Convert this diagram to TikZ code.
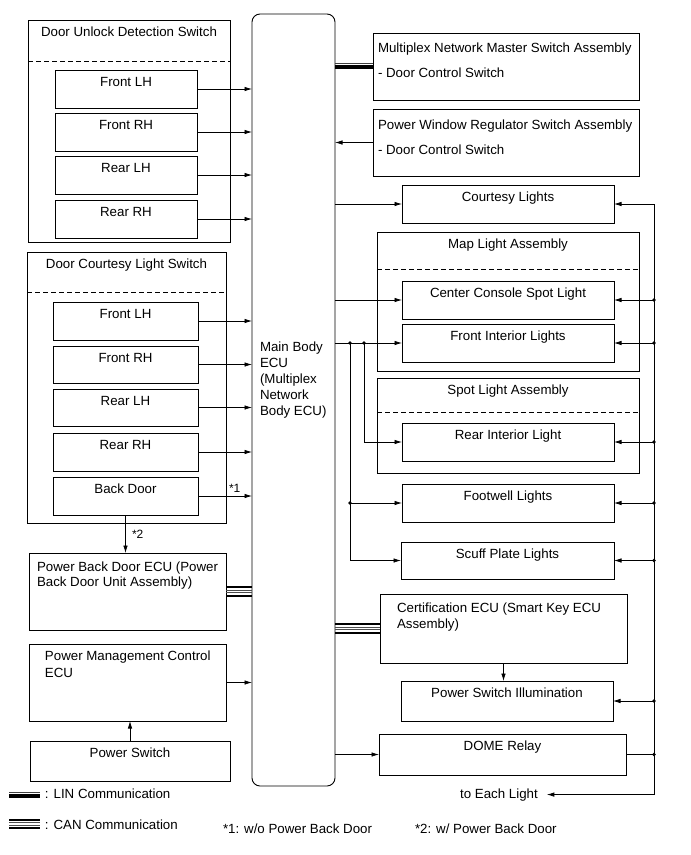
\documentclass[tikz,border=0pt]{standalone}
\usepackage{fontspec}
\setmainfont{Liberation Sans}
\usetikzlibrary{arrows.meta,calc}
\newcommand\mybx[5]{%
 \pgfmathsetmacro\bw{#4-#2}\pgfmathsetmacro\bh{#5-#3}%
 \node[box,anchor=north west,minimum width=\bw pt,minimum height=\bh pt] (#1) at (#2,#3) {};}
\newcommand\mybt[6]{%
 \mybx{#1}{#2}{#3}{#4}{#5}%
 \node[txt,anchor=base] (#1t) at ($(#1.north)+(0,16)$) {#6};}
\newcommand\linbus[2]{%
 \draw[line width=0.9pt,black!75] ([yshift=2.9pt]#1) -- ([yshift=2.9pt]#2);
 \draw[line width=4.2pt] ([yshift=-0.6pt]#1) -- ([yshift=-0.6pt]#2);}
\newcommand\canbus[2]{%
 \draw[line width=2pt] ([yshift=4.1pt]#1) -- ([yshift=4.1pt]#2);
 \draw[line width=0.7pt,black!70] ([yshift=1.2pt]#1) -- ([yshift=1.2pt]#2);
 \draw[line width=0.7pt,black!70] ([yshift=-1.2pt]#1) -- ([yshift=-1.2pt]#2);
 \draw[line width=2pt] ([yshift=-4.1pt]#1) -- ([yshift=-4.1pt]#2);}
\begin{document}
\begin{tikzpicture}[x=1pt,y=-1pt,
 box/.style={draw,line width=0.9pt,inner sep=0,outer sep=0},
 txt/.style={font=\fontsize{13.3}{16}\selectfont,inner sep=0,outer sep=0},
 arr/.style={line width=0.7pt,-{Latex[length=7.5pt,width=4.5pt]}},
 ln/.style={line width=0.7pt},
 dsh/.style={line width=0.8pt,dash pattern=on 5pt off 3pt}]
\useasboundingbox (0,0) rectangle (691,855);

% ---------- left column ----------
\mybt{dud}{28}{20}{230}{242}{Door Unlock Detection Switch}
\draw[dsh] ($(dud.north west)+(0,41)$) -- ($(dud.north east)+(0,41)$);
\mybt{u1}{55}{70}{197}{108}{Front LH}
\mybt{u2}{55}{113}{197}{151}{Front RH}
\mybt{u3}{55}{156}{197}{194}{Rear LH}
\mybt{u4}{55}{200}{197}{238}{Rear RH}

\mybt{dcl}{27}{252}{226}{523}{Door Courtesy Light Switch}
\draw[dsh] ($(dcl.north west)+(0,40)$) -- ($(dcl.north east)+(0,40)$);
\mybt{c1}{53}{302}{198}{340}{Front LH}
\mybt{c2}{53}{346}{198}{383}{Front RH}
\mybt{c3}{53}{389}{198}{426}{Rear LH}
\mybt{c4}{53}{433}{198}{471}{Rear RH}
\mybt{c5}{53}{477}{198}{515}{Back Door}

\mybx{pbd}{29}{553}{226}{630}
\node[txt,anchor=base west] (pbdt1) at (37,571) {Power Back Door ECU (Power};
\node[txt,anchor=base west] (pbdt2) at (37,586) {Back Door Unit Assembly)};

\mybx{pmc}{29}{644}{226}{721}
\node[txt,anchor=base west] (pmct1) at (45,660) {Power Management Control};
\node[txt,anchor=base west] (pmct2) at (45,677) {ECU};

\mybt{ps}{30}{741}{230}{781}{Power Switch}

% ---------- main ECU ----------
\node[box,rounded corners=8pt,anchor=north west,minimum width=83pt,minimum height=772pt] (ecu) at (252,14) {};
\node[txt,anchor=north west,align=left] (ecut) at (260,342) {Main Body\\ECU\\(Multiplex\\Network\\Body ECU)};

% ---------- right column ----------
\mybx{mnm}{373}{33}{639}{100}
\node[txt,anchor=base west] (mnmt1) at (378,52) {Multiplex Network Master Switch Assembly};
\node[txt,anchor=base west] (mnmt2) at (378,77) {- Door Control Switch};

\mybx{pwr}{373}{109}{639}{176}
\node[txt,anchor=base west] (pwrt1) at (378,129) {Power Window Regulator Switch Assembly};
\node[txt,anchor=base west] (pwrt2) at (378,154) {- Door Control Switch};

\mybt{cl}{402}{185}{614}{223}{Courtesy Lights}

\mybt{mla}{377}{232}{639}{371}{Map Light Assembly}
\draw[dsh] ($(mla.north west)+(0,37)$) -- ($(mla.north east)+(0,37)$);
\mybt{ccs}{402}{281}{614}{319}{Center Console Spot Light}
\mybt{fil}{402}{324}{614}{362}{Front Interior Lights}

\mybt{sla}{377}{378}{639}{473}{Spot Light Assembly}
\draw[dsh] ($(sla.north west)+(0,34)$) -- ($(sla.north east)+(0,34)$);
\mybt{ril}{402}{423}{614}{461}{Rear Interior Light}

\mybt{fwl}{402}{484}{614}{522}{Footwell Lights}
\mybt{spl}{401}{542}{614}{579}{Scuff Plate Lights}

\mybx{cert}{380}{594}{627}{663}
\node[txt,anchor=base west] (certt1) at (397,612) {Certification ECU (Smart Key ECU};
\node[txt,anchor=base west] (certt2) at (397,628) {Assembly)};

\mybt{psi}{401}{681}{613}{721}{Power Switch Illumination}
\mybt{dome}{379}{734}{626}{775}{DOME Relay}

\node[txt,anchor=base] (tel) at (499,798) {to Each Light};

% ---------- connectors: left side ----------
\foreach \n in {u1,u2,u3,u4,c1,c2,c3,c4,c5,pmc}
  \draw[arr] (\n.east) -- (\n.east -| ecu.west);
\node[txt,anchor=base west,font=\fontsize{12}{14}\selectfont] (s1) at (229,492) {*1};
\draw[arr] (c5.south) -- (c5.south |- pbd.north);
\node[txt,anchor=base west,font=\fontsize{12}{14}\selectfont] (s2) at (132,538) {*2};
\draw[arr] (ps.north) -- (ps.north |- pmc.south);
\coordinate (pbda) at (pbd.east);
\coordinate (pbdb) at (pbd.east -| ecu.west);
\canbus{pbda}{pbdb}

% ---------- connectors: right side ----------
\coordinate (mnma) at (ecu.east |- mnm.west);
\linbus{mnma}{mnm.west}
\draw[arr] (pwr.west) -- (pwr.west -| ecu.east);
\foreach \n in {cl,ccs,fil,dome}
  \draw[arr] (\n.west -| ecu.east) -- (\n.west);
\coordinate (bx1) at (350,0);
\coordinate (bx2) at (364,0);
\draw[arr] (fil.west -| bx2) |- (ril.west);
\draw[arr] (fil.west -| bx1) |- (spl.west);
\draw[arr] (fwl.west -| bx1) -- (fwl.west);
\fill (fil.west -| bx1) circle (1.8);
\fill (fil.west -| bx2) circle (1.8);
\fill (fwl.west -| bx1) circle (1.8);
\coordinate (certa) at (ecu.east |- cert.west);
\coordinate (certb) at (cert.west);
\canbus{certa}{certb}
\draw[arr] (cert.south) -- (cert.south |- psi.north);

% bus on the far right
\coordinate (bus) at (654,0);
\draw[ln] (bus |- cl.east) -- (bus |- tel.east);
\foreach \n in {cl,ccs,fil,ril,fwl,spl,psi}
  \draw[arr] (bus |- \n.east) -- (\n.east);
\foreach \n in {ccs,fil,ril,fwl,spl,psi,dome}
  \fill (bus |- \n.east) circle (1.8);
\draw[ln] (dome.east) -- (dome.east -| bus);
\draw[arr] (bus |- tel.east) -- ([xshift=9pt]tel.east);

% ---------- legend ----------
\coordinate (lga) at (9,795);
\coordinate (lgb) at (40,795);
\linbus{lga}{lgb}
\node[txt,anchor=base west] (lint) at (45,798) {: LIN Communication};
\coordinate (cga) at (9,824);
\coordinate (cgb) at (40,824);
\canbus{cga}{cgb}
\node[txt,anchor=base west] (cant) at (45,829) {: CAN Communication};
\node[txt,anchor=base west] (fn1) at (223,833) {*1: w/o Power Back Door};
\node[txt,anchor=base west] (fn2) at (415,833) {*2: w/ Power Back Door};
\end{tikzpicture}
\end{document}
